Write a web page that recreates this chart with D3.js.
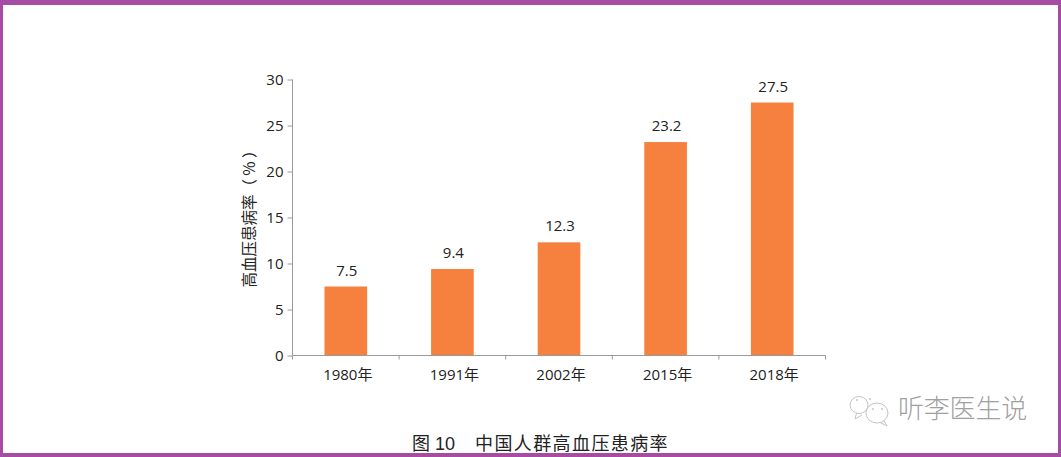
<!DOCTYPE html>
<html>
<head>
<meta charset="utf-8">
<script src="https://cdnjs.cloudflare.com/ajax/libs/d3/7.8.5/d3.min.js"></script>
<style>
  html, body { margin: 0; padding: 0; background: #fff; }
  text { font-family: "Open Sans", "Noto Sans CJK SC", sans-serif; fill: #222; }
</style>
</head>
<body>
<div id="chart"></div>
<script>
const years = ['1980年', '1991年', '2002年', '2015年', '2018年'];
const rates = [7.5, 9.4, 12.3, 23.2, 27.5];
const yTicks = [0, 5, 10, 15, 20, 25, 30];
const yTitle = '高血压患病率（ % ）';
const captionLabel = '图 10';
const captionText = '中国人群高血压患病率';
const watermark = '听李医生说';

const width = 1061;
const height = 457;
const purple = '#a64ca4';
const orange = '#f6803e';
const axisGrey = '#9a9a9a';

const svg = d3.select('#chart')
  .append('svg')
  .attr('width', width)
  .attr('height', height)
  .style('display', 'block');

// page frame
svg.append('rect').attr('width', width).attr('height', height).attr('fill', purple);
svg.append('rect').attr('x', 3).attr('y', 5).attr('width', 1055).attr('height', 448).attr('fill', '#fff');

const x = d3.scaleBand().domain(years).range([292.5, 825.5]).paddingInner(0.6).paddingOuter(0.3);
const y = d3.scaleLinear().domain([0, 30]).range([355.5, 79.5]);

svg.selectAll('rect.bar')
  .data(years)
  .enter()
  .append('rect')
  .attr('class', 'bar')
  .attr('x', d => x(d))
  .attr('y', (d, i) => y(rates[i]))
  .attr('width', x.bandwidth())
  .attr('height', (d, i) => y(0) - y(rates[i]))
  .attr('fill', orange);

svg.selectAll('text.value')
  .data(years)
  .enter()
  .append('text')
  .attr('class', 'value')
  .attr('x', d => x(d) + x.bandwidth() / 2 + 1)
  .attr('y', (d, i) => y(rates[i]) - 11)
  .attr('text-anchor', 'middle')
  .style('font-size', '15px')
  .text((d, i) => rates[i].toFixed(1));

// y axis
const yAxis = svg.append('g')
  .attr('transform', 'translate(292.5,0)')
  .call(d3.axisLeft(y).tickValues(yTicks).tickSize(5).tickPadding(4));
yAxis.selectAll('path, line').attr('stroke', axisGrey);
yAxis.selectAll('text').style('font-size', '15px').style('font-family', '"Open Sans"').attr('fill', '#222');
yAxis.select('path').attr('d', `M0,${y(30)}V${y(0)}`);

// x axis, ticks sit between the bars and point down
const xAxis = svg.append('g').attr('transform', `translate(0,${y(0)})`);
xAxis.append('path')
  .attr('d', `M${x.range()[0]},0H${x.range()[1]}`)
  .attr('stroke', axisGrey)
  .attr('fill', 'none');
xAxis.selectAll('line')
  .data(d3.range(years.length + 1))
  .enter()
  .append('line')
  .attr('x1', i => x.range()[0] + i * x.step())
  .attr('x2', i => x.range()[0] + i * x.step())
  .attr('y1', 0)
  .attr('y2', 4)
  .attr('stroke', axisGrey);
xAxis.selectAll('text')
  .data(years)
  .enter()
  .append('text')
  .attr('x', d => x(d) + x.bandwidth() / 2 + 2)
  .attr('y', 24)
  .attr('text-anchor', 'middle')
  .style('font-size', '15px')
  .text(d => d);

svg.append('text')
  .attr('transform', 'translate(255,215) rotate(-90)')
  .attr('text-anchor', 'middle')
  .style('font-size', '15.5px')
  .style('font-family', '"Noto Sans CJK SC"')
  .text(yTitle);

svg.append('text')
  .attr('x', 412)
  .attr('y', 450)
  .style('font-size', '18px')
  .style('font-family', '"Liberation Sans", "Noto Sans CJK SC"')
  .text(captionLabel);

svg.append('text')
  .attr('x', 475)
  .attr('y', 450)
  .style('font-size', '18px')
  .style('font-family', '"Noto Sans CJK SC"')
  .style('letter-spacing', '1.4px')
  .text(captionText);

// wechat mark
const icon = svg.append('g').attr('fill', '#fff').attr('stroke', '#c4c4c4').attr('stroke-width', 1);
icon.append('path').attr('d', 'M857,411 L855,419 L862,415');
icon.append('ellipse').attr('cx', 859).attr('cy', 405).attr('rx', 9).attr('ry', 8.5);
icon.append('path').attr('d', 'M883,419 L887,426 L879,422');
icon.append('ellipse').attr('cx', 877).attr('cy', 413).attr('rx', 11).attr('ry', 10);
icon.selectAll('circle')
  .data([[857, 400], [870, 399], [873, 409], [882, 409]])
  .enter()
  .append('circle')
  .attr('cx', d => d[0])
  .attr('cy', d => d[1])
  .attr('r', 0.8)
  .attr('fill', '#999')
  .attr('stroke', 'none');

svg.append('text')
  .attr('x', 898)
  .attr('y', 418)
  .style('font-size', '26px')
  .style('font-family', '"Noto Sans CJK SC"')
  .style('font-weight', 300)
  .style('letter-spacing', '-0.2px')
  .style('fill', '#a0a0a0')
  .text(watermark);
</script>
</body>
</html>
